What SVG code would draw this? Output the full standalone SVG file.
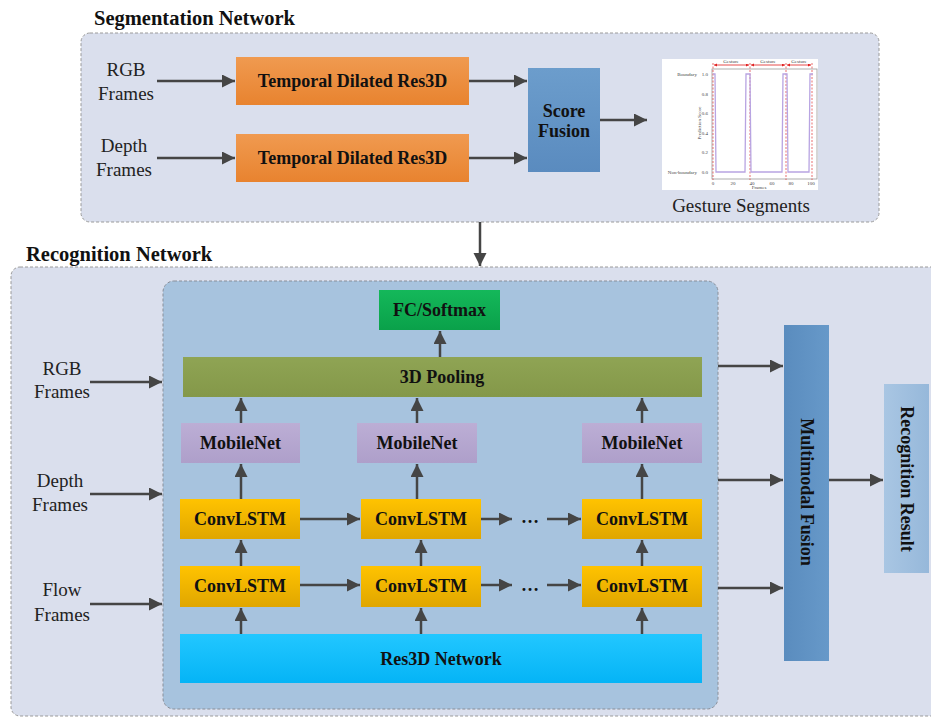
<svg xmlns="http://www.w3.org/2000/svg" width="931" height="717" viewBox="0 0 931 717">
<defs>
<style>
.panel{fill:#DADFED;stroke:#9A9A9A;stroke-width:1;stroke-dasharray:3,2}
.inner{fill:#A7C3DE;stroke:#8A8F99;stroke-width:1;stroke-dasharray:3,2}
.lbl{font-family:"Liberation Serif","Times New Roman",serif;font-size:19px;fill:#222;text-anchor:middle}
.title{font-family:"Liberation Serif","Times New Roman",serif;font-size:20.5px;font-weight:bold;fill:#111}
.bt{font-family:"Liberation Serif","Times New Roman",serif;font-size:18px;font-weight:bold;fill:#111;text-anchor:middle;dominant-baseline:central}
.conn line,.conn path{stroke:#454545;stroke-width:2.5;fill:none;marker-end:url(#ah)}
.tiny{font-family:"Liberation Serif","Times New Roman",serif;font-size:5px;fill:#444}
</style>
<marker id="ah" markerUnits="userSpaceOnUse" markerWidth="14" markerHeight="14" refX="13" refY="6.5" orient="auto">
<path d="M0,0 L13,6.5 L0,13 z" fill="#454545"/>
</marker>
<marker id="rh" markerUnits="userSpaceOnUse" markerWidth="4" markerHeight="4" refX="3" refY="1.5" orient="auto-start-reverse">
<path d="M0,0 L3,1.5 L0,3 z" fill="#E02020"/>
</marker>
<linearGradient id="gOr" x1="0" y1="0" x2="0" y2="1"><stop offset="0" stop-color="#F09A50"/><stop offset="1" stop-color="#E8832F"/></linearGradient>
<linearGradient id="gSf" x1="0" y1="0" x2="0" y2="1"><stop offset="0" stop-color="#6C9DCC"/><stop offset="1" stop-color="#5A8BBF"/></linearGradient>
<linearGradient id="gFc" x1="0" y1="0" x2="0" y2="1"><stop offset="0" stop-color="#14B85A"/><stop offset="1" stop-color="#0AA14A"/></linearGradient>
<linearGradient id="gPo" x1="0" y1="0" x2="0" y2="1"><stop offset="0" stop-color="#8FA454"/><stop offset="1" stop-color="#849849"/></linearGradient>
<linearGradient id="gMb" x1="0" y1="0" x2="0" y2="1"><stop offset="0" stop-color="#BCAED5"/><stop offset="1" stop-color="#AE9FCA"/></linearGradient>
<linearGradient id="gCl" x1="0" y1="0" x2="0" y2="1"><stop offset="0" stop-color="#FFC300"/><stop offset="1" stop-color="#E0A600"/></linearGradient>
<linearGradient id="gRs" x1="0" y1="0" x2="0" y2="1"><stop offset="0" stop-color="#22C7FF"/><stop offset="1" stop-color="#05B4F6"/></linearGradient>
<linearGradient id="gMm" x1="0" y1="0" x2="1" y2="0"><stop offset="0" stop-color="#5A8CBE"/><stop offset="1" stop-color="#6799C9"/></linearGradient>
<linearGradient id="gRr" x1="0" y1="0" x2="1" y2="0"><stop offset="0" stop-color="#A9C6E3"/><stop offset="1" stop-color="#96B8DA"/></linearGradient>
</defs>
<rect width="931" height="717" fill="#FFFFFF"/>

<!-- Segmentation panel -->
<g id="segmentation-network">
<rect class="panel" x="81" y="33" width="798" height="189" rx="9"/>
<text class="title" x="94" y="25">Segmentation Network</text>
</g>

<!-- Recognition panel -->
<g id="recognition-network">
<rect class="panel" x="11" y="267" width="935" height="449" rx="9"/>
<text class="title" x="26" y="261">Recognition Network</text>
<rect class="inner" x="163" y="281" width="555" height="428" rx="11"/>
</g>

<!-- Segmentation inputs -->
<g id="seg-rgb-label"><text class="lbl" x="126" y="76">RGB</text><text class="lbl" x="126" y="100">Frames</text></g>
<g id="seg-depth-label"><text class="lbl" x="124" y="152">Depth</text><text class="lbl" x="124" y="176">Frames</text></g>

<g id="tdr-rgb"><rect x="236" y="57" width="233" height="48" fill="url(#gOr)"/><text class="bt" x="352.5" y="81">Temporal Dilated Res3D</text></g>
<g id="tdr-depth"><rect x="236" y="134" width="233" height="48" fill="url(#gOr)"/><text class="bt" x="352.5" y="158">Temporal Dilated Res3D</text></g>

<g id="score-fusion"><rect x="528" y="68" width="72" height="104" fill="url(#gSf)"/>
<text class="bt" x="564" y="111">Score</text><text class="bt" x="564" y="131">Fusion</text></g>

<!-- Gesture segments chart -->
<g id="gesture-segments">
<rect x="662" y="59" width="156" height="131" fill="#FFFFFF"/>
<rect x="712" y="69" width="105" height="110" fill="none" stroke="#999" stroke-width="0.8"/>
<g stroke="#E03030" stroke-width="0.7" stroke-dasharray="2,1.5">
<line x1="713" y1="63" x2="713" y2="180"/><line x1="750" y1="63" x2="750" y2="180"/><line x1="786" y1="63" x2="786" y2="180"/><line x1="812" y1="63" x2="812" y2="180"/>
</g>
<g stroke="#E02020" stroke-width="0.8" fill="none">
<line x1="714" y1="65" x2="749" y2="65" marker-start="url(#rh)" marker-end="url(#rh)"/>
<line x1="751" y1="65" x2="785" y2="65" marker-start="url(#rh)" marker-end="url(#rh)"/>
<line x1="787" y1="65" x2="811" y2="65" marker-start="url(#rh)" marker-end="url(#rh)"/>
</g>
<text class="tiny" x="731" y="63" text-anchor="middle" font-size="4">Gesture</text>
<text class="tiny" x="768" y="63" text-anchor="middle" font-size="4">Gesture</text>
<text class="tiny" x="799" y="63" text-anchor="middle" font-size="4">Gesture</text>
<polyline fill="none" stroke="#B8A4E2" stroke-width="1.3" points="713,74 715,74 716,172 745,172 746,74 750,74 751,172 782,172 783,74 787,74 788,172 809,172 810,74 813,74"/>
<text class="tiny" x="697" y="76" text-anchor="end">Boundary</text>
<text class="tiny" x="697" y="174" text-anchor="end">Non-boundary</text>
<g class="tiny" text-anchor="end">
<text x="708" y="76">1.0</text><text x="708" y="95.5">0.8</text><text x="708" y="115">0.6</text><text x="708" y="134.5">0.4</text><text x="708" y="154">0.2</text><text x="708" y="174">0.0</text>
</g>
<g class="tiny" text-anchor="middle">
<text x="713" y="185">0</text><text x="733" y="185">20</text><text x="752" y="185">40</text><text x="772" y="185">60</text><text x="791" y="185">80</text><text x="811" y="185">100</text>
<text x="759" y="189">Frames</text>
</g>
<text class="tiny" transform="translate(701,123) rotate(-90)" text-anchor="middle">Prediction Score</text>
<text class="lbl" x="741" y="212" font-size="18.5">Gesture Segments</text>
</g>

<!-- Recognition inputs -->
<g id="rec-rgb-label"><text class="lbl" x="62" y="375">RGB</text><text class="lbl" x="62" y="398">Frames</text></g>
<g id="rec-depth-label"><text class="lbl" x="60" y="487">Depth</text><text class="lbl" x="60" y="511">Frames</text></g>
<g id="rec-flow-label"><text class="lbl" x="62" y="596">Flow</text><text class="lbl" x="62" y="621">Frames</text></g>

<g id="fc-softmax"><rect x="379" y="290" width="121" height="40" fill="url(#gFc)"/><text class="bt" x="439.5" y="310">FC/Softmax</text></g>
<g id="pooling-3d"><rect x="183" y="357" width="519" height="40" fill="url(#gPo)"/><text class="bt" x="442" y="377">3D Pooling</text></g>

<g id="mobilenet-1"><rect x="181" y="423" width="119" height="40" fill="url(#gMb)"/><text class="bt" x="240.5" y="443">MobileNet</text></g>
<g id="mobilenet-2"><rect x="357" y="423" width="120" height="40" fill="url(#gMb)"/><text class="bt" x="417" y="443">MobileNet</text></g>
<g id="mobilenet-3"><rect x="582" y="423" width="120" height="40" fill="url(#gMb)"/><text class="bt" x="642" y="443">MobileNet</text></g>

<g id="convlstm-1a"><rect x="180" y="499" width="120" height="40" fill="url(#gCl)"/><text class="bt" x="240" y="519">ConvLSTM</text></g>
<g id="convlstm-2a"><rect x="361" y="499" width="120" height="40" fill="url(#gCl)"/><text class="bt" x="421" y="519">ConvLSTM</text></g>
<g id="convlstm-3a"><rect x="582" y="499" width="120" height="40" fill="url(#gCl)"/><text class="bt" x="642" y="519">ConvLSTM</text></g>
<g id="convlstm-1b"><rect x="180" y="566" width="120" height="41" fill="url(#gCl)"/><text class="bt" x="240" y="586">ConvLSTM</text></g>
<g id="convlstm-2b"><rect x="361" y="566" width="120" height="41" fill="url(#gCl)"/><text class="bt" x="421" y="586">ConvLSTM</text></g>
<g id="convlstm-3b"><rect x="582" y="566" width="120" height="41" fill="url(#gCl)"/><text class="bt" x="642" y="586">ConvLSTM</text></g>

<g id="dots"><text class="bt" x="530" y="517" font-weight="normal">…</text><text class="bt" x="530" y="585" font-weight="normal">…</text></g>

<g id="res3d"><rect x="180" y="634" width="522" height="49" fill="url(#gRs)"/><text class="bt" x="441" y="659">Res3D Network</text></g>

<g id="multimodal-fusion"><rect x="784" y="325" width="45" height="336" fill="url(#gMm)"/>
<text class="bt" transform="translate(806.5,492) rotate(90)">Multimodal Fusion</text></g>
<g id="recognition-result"><rect x="884" y="384" width="45" height="189" fill="url(#gRr)"/>
<text class="bt" transform="translate(906.5,479) rotate(90)">Recognition Result</text></g>

<!-- Connectors -->
<g id="connectors" class="conn">
<line x1="157" y1="81" x2="235" y2="81"/>
<line x1="157" y1="158" x2="235" y2="158"/>
<line x1="469" y1="81" x2="527" y2="81"/>
<line x1="469" y1="158" x2="527" y2="158"/>
<line x1="600" y1="120" x2="647" y2="120"/>
<line x1="480" y1="222" x2="480" y2="266"/>
<line x1="90" y1="382" x2="162" y2="382"/>
<line x1="90" y1="494" x2="162" y2="494"/>
<line x1="90" y1="604" x2="162" y2="604"/>
<line x1="440" y1="357" x2="440" y2="331"/>
<line x1="241" y1="423" x2="241" y2="398"/>
<line x1="417" y1="423" x2="417" y2="398"/>
<line x1="642" y1="423" x2="642" y2="398"/>
<line x1="241" y1="499" x2="241" y2="464"/>
<line x1="417" y1="499" x2="417" y2="464"/>
<line x1="642" y1="499" x2="642" y2="464"/>
<line x1="241" y1="566" x2="241" y2="540"/>
<line x1="421" y1="566" x2="421" y2="540"/>
<line x1="642" y1="566" x2="642" y2="540"/>
<line x1="241" y1="634" x2="241" y2="608"/>
<line x1="421" y1="634" x2="421" y2="608"/>
<line x1="642" y1="634" x2="642" y2="608"/>
<line x1="300" y1="519" x2="360" y2="519"/>
<line x1="481" y1="519" x2="512" y2="519"/>
<line x1="547" y1="519" x2="581" y2="519"/>
<line x1="300" y1="585" x2="360" y2="585"/>
<line x1="481" y1="585" x2="512" y2="585"/>
<line x1="547" y1="585" x2="581" y2="585"/>
<line x1="718" y1="366" x2="783" y2="366"/>
<line x1="718" y1="480" x2="783" y2="480"/>
<line x1="718" y1="588" x2="783" y2="588"/>
<line x1="829" y1="480" x2="883" y2="480"/>
</g>
</svg>
